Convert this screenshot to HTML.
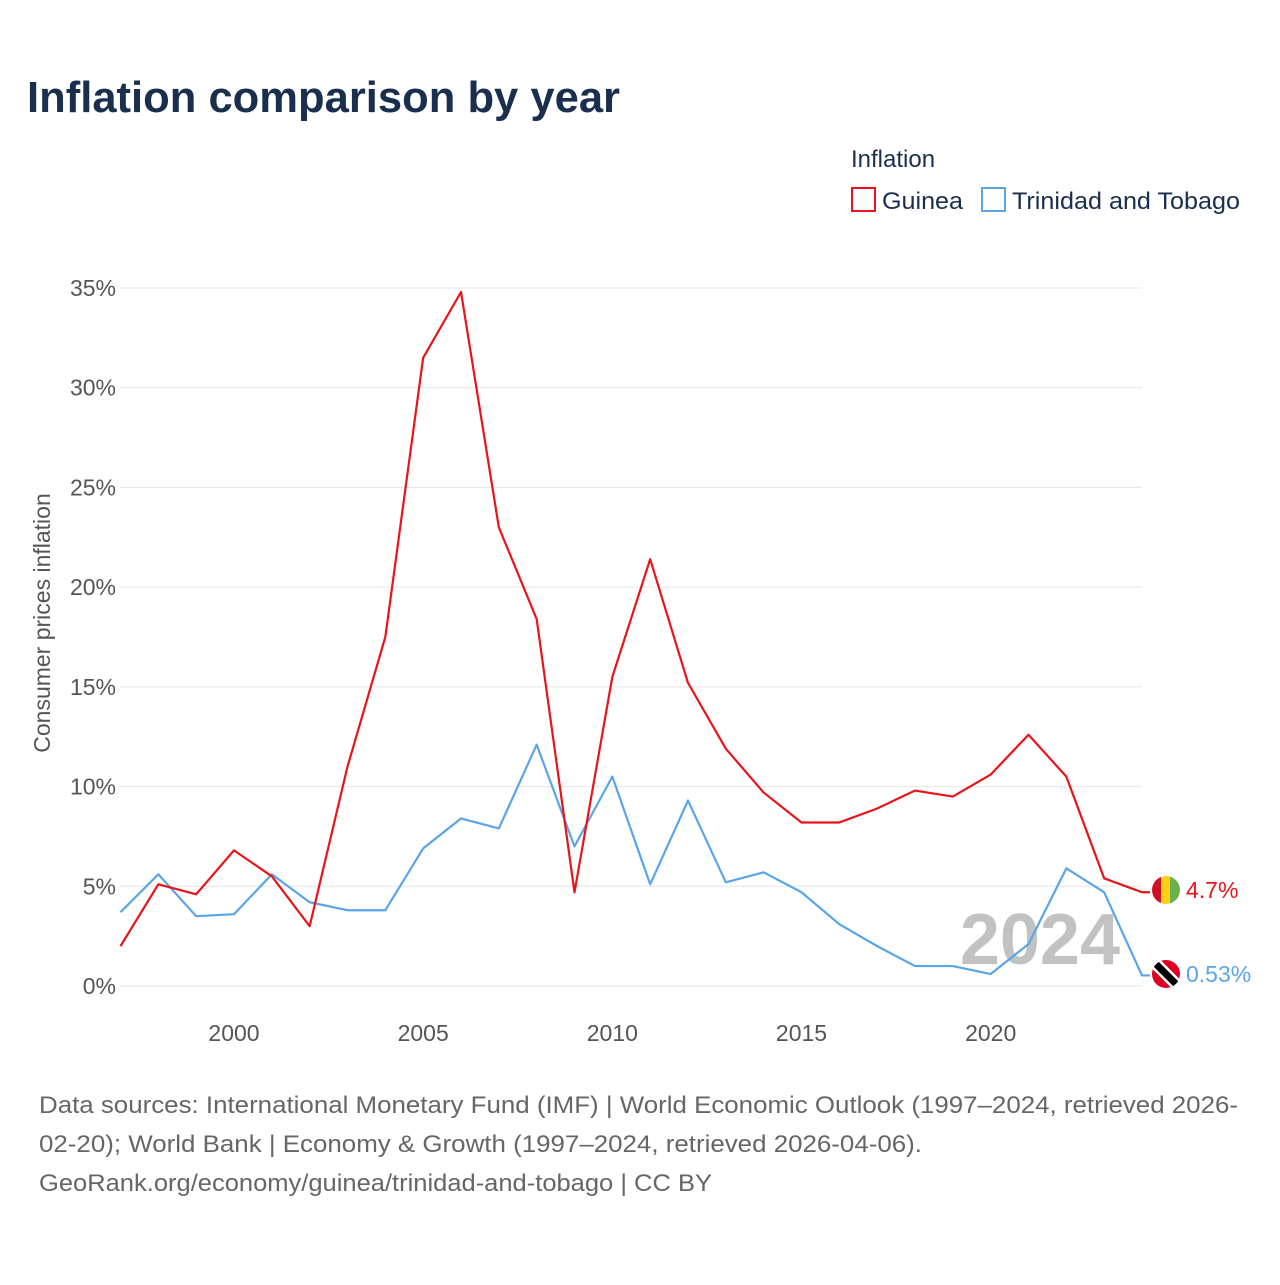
<!DOCTYPE html>
<html><head><meta charset="utf-8"><style>
body{margin:0;background:#fff;width:1280px;height:1280px;overflow:hidden;font-family:"Liberation Sans",sans-serif}
</style></head><body>
<svg width="1280" height="1280">
<text x="27" y="112" font-size="44" font-weight="bold" fill="#1a2e4d" textLength="593" lengthAdjust="spacingAndGlyphs">Inflation comparison by year</text>
<text x="851" y="167" font-size="24" fill="#1a2e4d">Inflation</text>
<g><rect x="852" y="188" width="23" height="23" fill="none" stroke="#e8141a" stroke-width="2"/><text x="882" y="209" font-size="24" fill="#1a2e4d" textLength="81" lengthAdjust="spacingAndGlyphs">Guinea</text></g>
<g><rect x="982" y="188" width="23" height="23" fill="none" stroke="#5aa5ea" stroke-width="2"/><text x="1012" y="209" font-size="24" fill="#1a2e4d" textLength="228" lengthAdjust="spacingAndGlyphs">Trinidad and Tobago</text></g>
<g id="grid"></g><g id="yt"></g><g id="xt"></g>
<text transform="translate(50,623) rotate(-90)" text-anchor="middle" font-size="23" fill="#555">Consumer prices inflation</text>
<text x="1120" y="964" text-anchor="end" font-size="72" font-weight="bold" fill="#c2c2c2">2024</text>
<g id="lines"></g>
<g><clipPath id="c1"><circle cx="1166" cy="890" r="14"/></clipPath><g clip-path="url(#c1)"><rect x="1152" y="876" width="10" height="28" fill="#ce1126"/><rect x="1161" y="876" width="10" height="28" fill="#fcd116"/><rect x="1170" y="876" width="10" height="28" fill="#6ab04c"/></g></g>
<g><clipPath id="c2"><circle cx="1166" cy="974" r="14"/></clipPath><g clip-path="url(#c2)"><rect x="1152" y="960" width="28" height="28" fill="#e00020"/><line x1="1150" y1="958" x2="1182" y2="990" stroke="#fff" stroke-width="12"/><line x1="1150" y1="958" x2="1182" y2="990" stroke="#000" stroke-width="7"/></g></g>
<text x="1186" y="898" font-size="23" fill="#e8141a">4.7%</text>
<text x="1186" y="982" font-size="23" fill="#5aa5ea">0.53%</text>
<text font-size="24" fill="#666"><tspan x="39" y="1113" textLength="1199" lengthAdjust="spacingAndGlyphs">Data sources: International Monetary Fund (IMF) | World Economic Outlook (1997–2024, retrieved 2026-</tspan><tspan x="39" y="1152" textLength="883" lengthAdjust="spacingAndGlyphs">02-20); World Bank | Economy &amp; Growth (1997–2024, retrieved 2026-04-06).</tspan><tspan x="39" y="1191" textLength="673" lengthAdjust="spacingAndGlyphs">GeoRank.org/economy/guinea/trinidad-and-tobago | CC BY</tspan></text>
</svg>
<script>
const years=[1997,1998,1999,2000,2001,2002,2003,2004,2005,2006,2007,2008,2009,2010,2011,2012,2013,2014,2015,2016,2017,2018,2019,2020,2021,2022,2023,2024];
const guinea=[2.0,5.1,4.6,6.8,5.5,3.0,11.0,17.5,31.5,34.8,23.0,18.4,4.7,15.5,21.4,15.2,11.9,9.7,8.2,8.2,8.9,9.8,9.5,10.6,12.6,10.5,5.4,4.7];
const tt=[3.7,5.6,3.5,3.6,5.6,4.2,3.8,3.8,6.9,8.4,7.9,12.1,7.0,10.5,5.1,9.3,5.2,5.7,4.7,3.1,2.0,1.0,1.0,0.6,2.1,5.9,4.7,0.53];
const yTicks=[0,5,10,15,20,25,30,35];
const xTicks=[2000,2005,2010,2015,2020];
const NS="http://www.w3.org/2000/svg";
const X=y=>120.5+(y-1997)*(1142-120.5)/27;
const Y=v=>986-v*(986-288)/35;
function mk(t,a,p){const e=document.createElementNS(NS,t);for(const k in a)e.setAttribute(k,a[k]);p.appendChild(e);return e;}
const g=document.getElementById('grid'),yt=document.getElementById('yt'),xt=document.getElementById('xt'),L=document.getElementById('lines');
yTicks.forEach(v=>{
 const l=mk('line',{x1:120,x2:1142,y1:Y(v),y2:Y(v),stroke:'#e6e6e6','stroke-width':1},g);
 
 
 const t=mk('text',{x:116,y:Y(v)+8,'text-anchor':'end','font-size':23,fill:'#555'},yt);t.textContent=v+'%';
 
 
});
xTicks.forEach(v=>{
 const t=mk('text',{x:X(v),y:1041,'text-anchor':'middle','font-size':23,fill:'#555'},xt);t.textContent=v;
 
 
});
function line(d,c,n){
 const pts=years.map((y,i)=>X(y)+','+Y(d[i]));
 pts.push((X(2024)+8)+','+Y(d[d.length-1]));
 const p=mk('polyline',{points:pts.join(' '),fill:'none',stroke:c,'stroke-width':2.2,'stroke-linejoin':'round'},L);
 
 
}
line(tt,'#5aa5ea','tt-line');
line(guinea,'#e8141a','guinea-line');
</script>
</body></html>
